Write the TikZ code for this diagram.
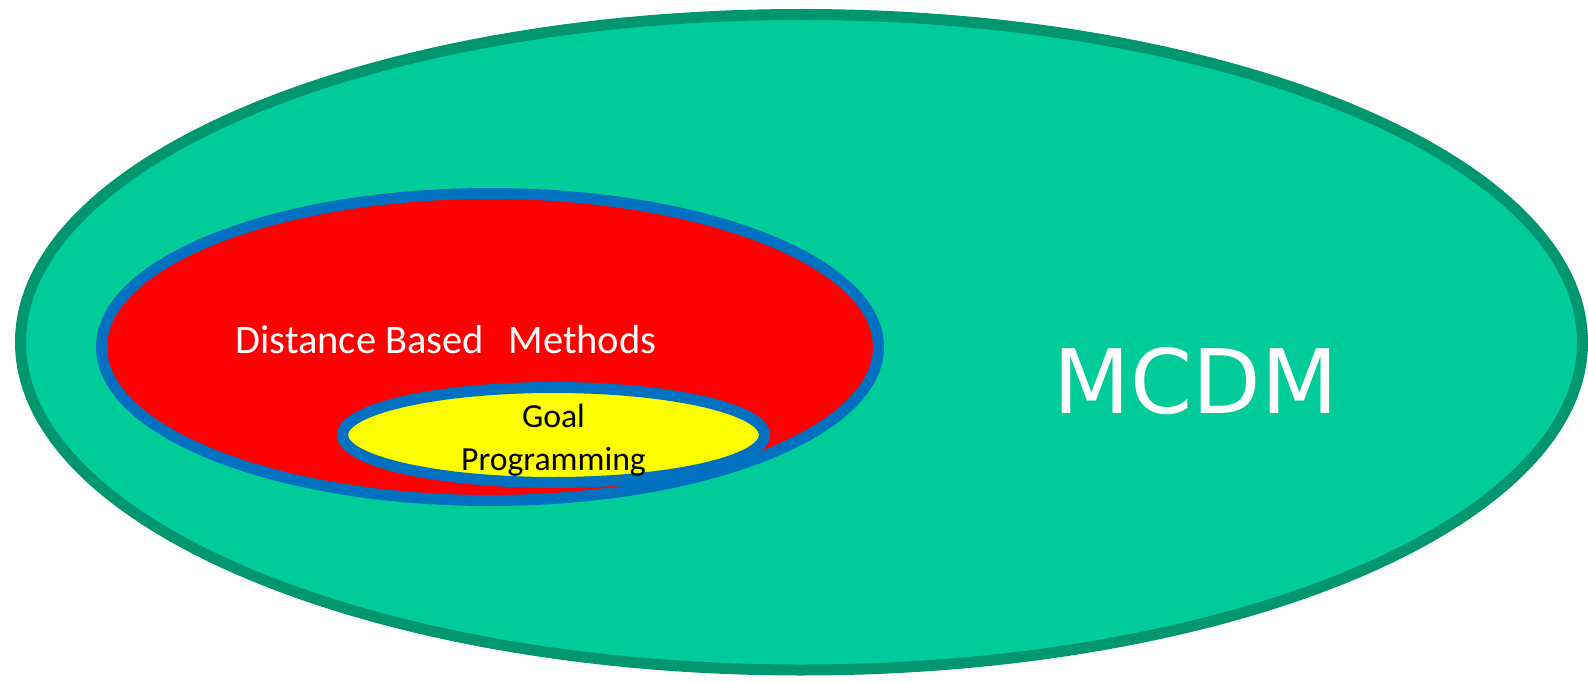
\documentclass[tikz,border=0pt]{standalone}
\usepackage{fontspec}
\setmainfont{Carlito}
\newfontfamily\mcdmfont{DejaVu Sans}
\definecolor{setfill}{HTML}{00CC99}
\definecolor{setedge}{HTML}{009670}
\definecolor{subedge}{HTML}{0070C0}
\definecolor{subfill}{HTML}{FF0000}
\definecolor{innerfill}{HTML}{FFFF00}
\tikzset{
  setring/.style={line width=11pt},
  whitelabel/.style={text=white, inner sep=0pt, anchor=base},
  blacklabel/.style={text=black, inner sep=0pt, anchor=base, align=center}
}
\begin{document}
\begin{tikzpicture}[x=1pt,y=-1pt]
  \useasboundingbox (0,0) rectangle (1588,682);
  \clip (0,0) rectangle (1588,682);
  % outer set: MCDM
  \draw[setring, draw=setedge, fill=setfill] (801.5,342.25) ellipse [x radius=781, y radius=327.75];
  % distance based methods
  \draw[setring, draw=subedge, fill=subfill] (490,347) ellipse [x radius=388.5, y radius=153.5];
  % goal programming
  \draw[setring, draw=subedge, fill=innerfill] (553.5,435) ellipse [x radius=211, y radius=47.5];
  \node[whitelabel, font=\fontsize{40.5}{48}\selectfont] (dbm) at (446,353) {Distance Based\hspace{0.6em}Methods};
  \node[blacklabel, font=\fontsize{33.7}{43}\selectfont] (goal) at (553.5,427) {Goal};
  \node[blacklabel, font=\fontsize{33.7}{43}\selectfont] (prog) at (553.5,470) {Programming};
  \node[whitelabel, font=\mcdmfont\fontsize{89}{100}\selectfont] (mcdm) at (1196,413) {MCDM};
\end{tikzpicture}
\end{document}
